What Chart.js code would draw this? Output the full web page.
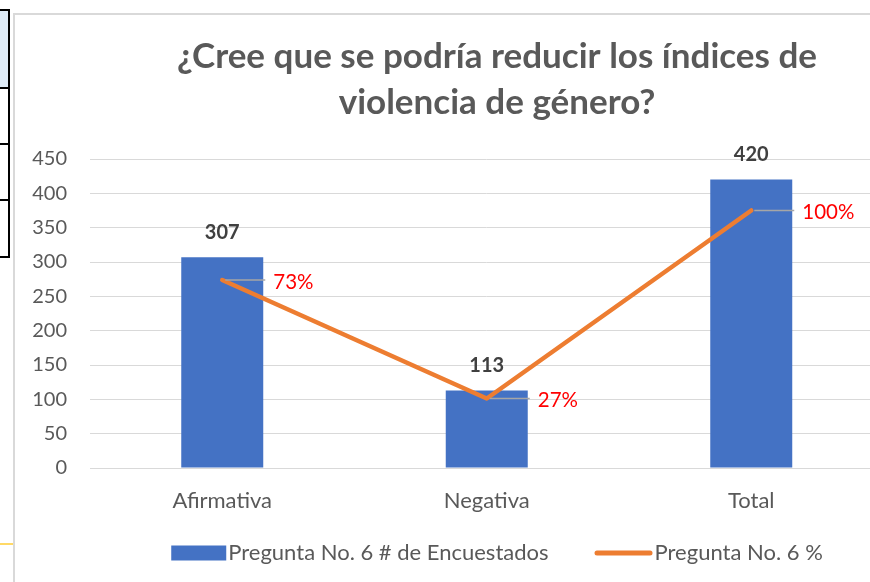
<!DOCTYPE html>
<html><head><meta charset="utf-8">
<script src="https://cdn.jsdelivr.net/npm/chart.js@4/dist/chart.umd.min.js"></script>
<style>
html,body{margin:0;padding:0;background:#fff;overflow:hidden;width:870px;height:582px;}
#frame{position:absolute;left:13px;top:13px;width:1000px;height:600px;border-left:2px solid #d9d9d9;border-top:2px solid #d9d9d9;}
#wrap{position:absolute;left:16px;top:16px;width:962px;height:566px;}
.d{position:absolute;}
</style></head>
<body>
<div class="d" style="left:0;top:10px;width:8px;height:78px;background:#deebf7"></div>
<div class="d" style="left:0;top:9px;width:10px;height:2px;background:#000"></div>
<div class="d" style="left:8px;top:9px;width:2px;height:249px;background:#000"></div>
<div class="d" style="left:0;top:87px;width:10px;height:2px;background:#000"></div>
<div class="d" style="left:0;top:143px;width:10px;height:2px;background:#000"></div>
<div class="d" style="left:0;top:199px;width:10px;height:2px;background:#000"></div>
<div class="d" style="left:0;top:256px;width:10px;height:2px;background:#000"></div>
<div class="d" style="left:0;top:543px;width:13px;height:2px;background:#ffd966"></div>
<div id="frame"></div>
<div id="wrap"><canvas id="c" width="962" height="566"></canvas></div>
<script>
const categories = ['Afirmativa', 'Negativa', 'Total'];
const counts = [307, 113, 420];
const percents = [73, 27, 100];
const countTicks = [0, 50, 100, 150, 200, 250, 300, 350, 400, 450];
const titleLines = ['¿Cree que se podría reducir los índices de', 'violencia de género?'];
const seriesNames = ['Pregunta No. 6 # de Encuestados', 'Pregunta No. 6 %'];

const FONT = 'Lato';
const GRAY = '#595959';

const labelsPlugin = {
  id: 'labelsPlugin',
  afterDatasetsDraw(chart) {
    const ctx = chart.ctx;
    ctx.save();
    const barMeta = chart.getDatasetMeta(1);
    ctx.font = 'bold 20px ' + FONT;
    ctx.fillStyle = '#404040';
    ctx.textAlign = 'center';
    ctx.textBaseline = 'middle';
    barMeta.data.forEach((el, i) => {
      ctx.fillText(String(counts[i]), el.x, el.y - 25);
    });
    const lineMeta = chart.getDatasetMeta(0);
    lineMeta.data.forEach((el, i) => {
      ctx.strokeStyle = '#a6a6a6';
      ctx.lineWidth = 1.5;
      ctx.beginPath();
      ctx.moveTo(el.x + 3, el.y);
      ctx.lineTo(el.x + 43, el.y);
      ctx.stroke();
      ctx.fillStyle = '#ff0000';
      ctx.textAlign = 'left';
      ctx.font = '20.5px ' + FONT;
      ctx.fillText(percents[i] + '%', el.x + 51, el.y + 2);
    });
    ctx.restore();
  }
};

const legendPlugin = {
  id: 'legendPlugin',
  afterDraw(chart) {
    const ctx = chart.ctx;
    const a = chart.chartArea;
    ctx.save();
    ctx.font = '22px ' + FONT;
    ctx.textBaseline = 'middle';
    ctx.textAlign = 'left';
    const ds = chart.data.datasets;
    const t1 = ds[1].label, t2 = ds[0].label;
    const w1 = ctx.measureText(t1).width, w2 = ctx.measureText(t2).width;
    const total = 55 + 2 + w1 + 46 + 58 + 2 + w2;
    const y = a.bottom + 85;
    let x = chart.width / 2 - total / 2;
    ctx.fillStyle = ds[1].backgroundColor;
    ctx.fillRect(x, y - 7.5, 55, 15);
    x += 57;
    ctx.fillStyle = GRAY;
    ctx.fillText(t1, x, y);
    x += w1 + 46;
    ctx.strokeStyle = ds[0].borderColor;
    ctx.lineWidth = 5;
    ctx.lineCap = 'round';
    ctx.beginPath();
    ctx.moveTo(x + 2.5, y);
    ctx.lineTo(x + 55.5, y);
    ctx.stroke();
    x += 60;
    ctx.fillText(t2, x, y);
    ctx.restore();
  }
};

new Chart(document.getElementById('c'), {
  data: {
    labels: categories,
    datasets: [
      {
        type: 'line',
        label: seriesNames[1],
        data: percents,
        yAxisID: 'y1',
        borderColor: '#ed7d31',
        backgroundColor: '#ed7d31',
        borderWidth: 4.5,
        borderCapStyle: 'round',
        borderJoinStyle: 'round',
        pointRadius: 0,
        tension: 0,
        order: 0
      },
      {
        type: 'bar',
        label: seriesNames[0],
        data: counts,
        yAxisID: 'y',
        backgroundColor: '#4472c4',
        barPercentage: 0.31,
        categoryPercentage: 1,
        order: 1
      }
    ]
  },
  options: {
    responsive: false,
    animation: false,
    events: [],
    layout: { padding: { left: 0, right: 0, top: 0, bottom: 0 } },
    plugins: {
      legend: { display: false },
      tooltip: { enabled: false },
      title: {
        display: true,
        text: titleLines,
        color: GRAY,
        font: { family: FONT, size: 35, weight: 'bold', lineHeight: '46px' },
        padding: { top: 18, bottom: 33 }
      }
    },
    scales: {
      x: {
        grid: { display: false },
        border: { display: true, color: '#d9d9d9', width: 1 },
        ticks: { color: GRAY, font: { family: FONT, size: 22 }, padding: 12 },
        afterFit(s) { s.height = 114; }
      },
      y: {
        min: 0, max: 450,
        afterBuildTicks(s) { s.ticks = countTicks.map(v => ({ value: v })); },
        grid: { color: '#d9d9d9', lineWidth: 1, drawTicks: false },
        border: { display: false },
        ticks: { color: GRAY, font: { family: FONT, size: 20 }, padding: 23 },
        afterFit(s) { s.width = 74; }
      },
      y1: {
        position: 'right',
        min: 0, max: 120,
        grid: { display: false },
        border: { display: false },
        ticks: { display: false },
        afterFit(s) { s.width = 94.5; }
      }
    }
  },
  plugins: [labelsPlugin, legendPlugin]
});
</script>
</body></html>
